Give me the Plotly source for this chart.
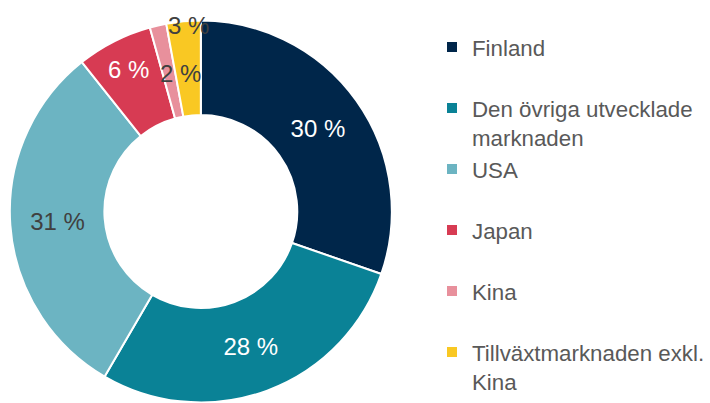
import plotly.graph_objects as go

labels = ["Finland<br> ", "Den övriga utvecklade<br>marknaden", "USA<br> ", "Japan<br> ", "Kina<br> ", "Tillväxtmarknaden exkl.<br>Kina"]
values = [30.3, 28.1, 30.9, 6.4, 1.4, 2.9]
slice_text = ["30 %", "28 %", "31 %", "6 %", "", ""]
small_labels = ["2 %", "3 %"]
colors = ["#00264A", "#0A8296", "#6CB4C2", "#D73B53", "#E8909C", "#F9C823"]
text_colors = ["white", "white", "#404040", "white", "#404040", "#404040"]

W, H = 710, 403
FONT = "Arial, Liberation Sans, sans-serif"

fig = go.Figure()
fig.add_trace(go.Pie(
    labels=labels,
    values=values,
    text=slice_text,
    textinfo="text",
    textposition="inside",
    insidetextorientation="horizontal",
    insidetextfont=dict(color=text_colors, size=24, family=FONT),
    hole=0.505,
    sort=False,
    direction="clockwise",
    rotation=0,
    marker=dict(colors=colors, line=dict(color="white", width=2)),
    domain=dict(x=[10 / W, 398 / W], y=[0, 383 / H]),
))

fig.add_annotation(x=183 / W, y=1 - 73 / H, xref="paper", yref="paper",
                   xanchor="center", yanchor="middle",
                   text=small_labels[0], showarrow=False,
                   font=dict(size=24, color="#404040", family=FONT))
fig.add_annotation(x=191 / W, y=1 - 25 / H, xref="paper", yref="paper",
                   xanchor="center", yanchor="middle",
                   text=small_labels[1], showarrow=False,
                   font=dict(size=24, color="#404040", family=FONT))

fig.update_layout(
    width=W, height=H,
    margin=dict(l=0, r=0, t=0, b=0),
    paper_bgcolor="white",
    plot_bgcolor="white",
    showlegend=True,
    legend=dict(
        x=439 / W, xanchor="left",
        y=1 - 26 / H, yanchor="top",
        valign="top",
        font=dict(size=22.3, color="#595959", family=FONT),
        bgcolor="rgba(0,0,0,0)",
    ),
)

fig.write_html("out.html")
